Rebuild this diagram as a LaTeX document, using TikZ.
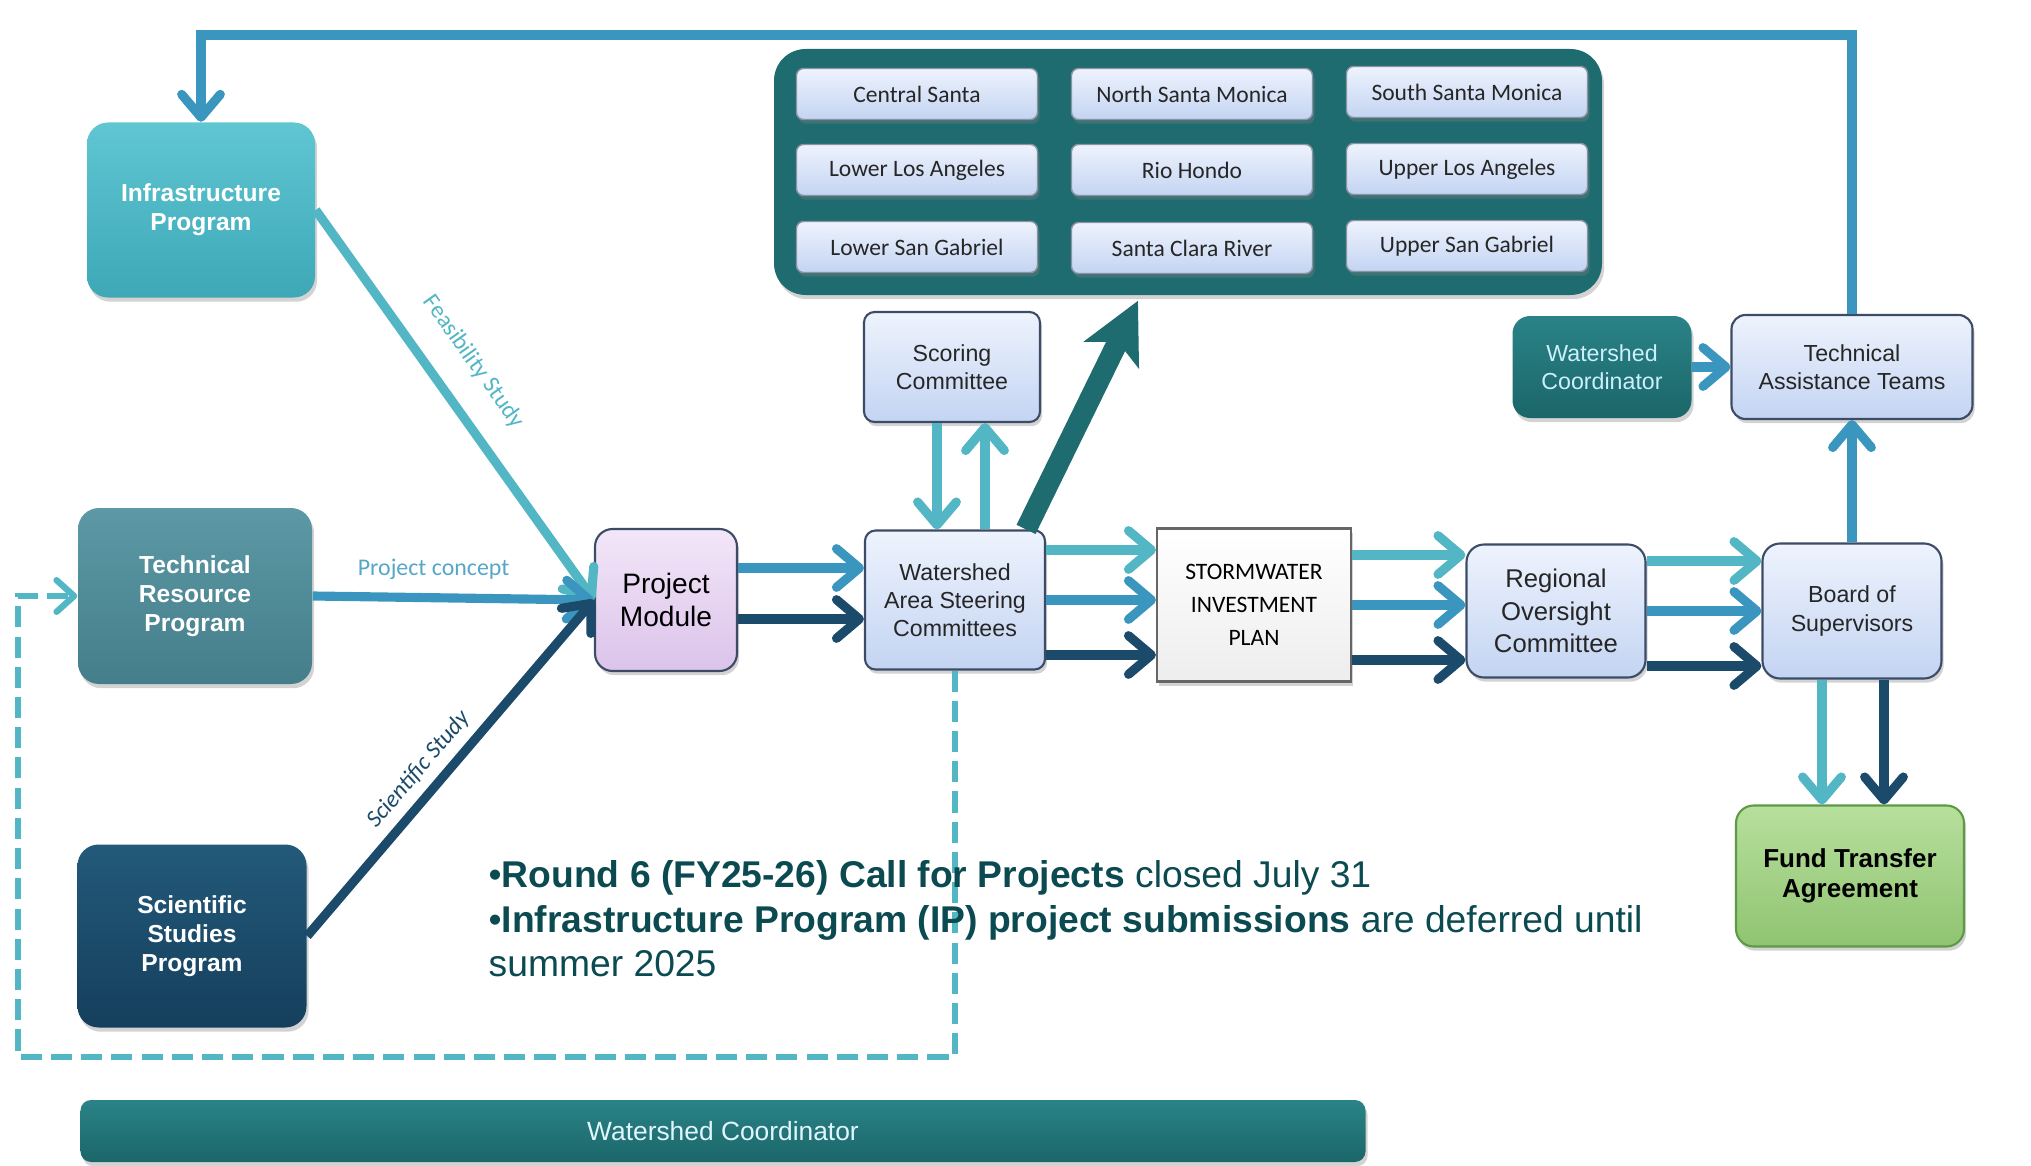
\documentclass[tikz,border=0pt]{standalone}
\usepackage{fontspec}
\setmainfont{Liberation Sans}
\newfontfamily\calib{Carlito}
\usetikzlibrary{arrows.meta, positioning, shadows}
\definecolor{lteal}{HTML}{52B6C4}
\definecolor{mblue}{HTML}{3A96BE}
\definecolor{navy}{HTML}{1B4A6B}
\definecolor{dteal}{HTML}{1F6C70}
\definecolor{txtteal}{HTML}{0B4A50}
\definecolor{boxline}{HTML}{3C4B66}
\definecolor{lbtop}{HTML}{EEF3FD}
\definecolor{lbbot}{HTML}{C3D4F2}
\definecolor{infratop}{HTML}{5FC6D2}
\definecolor{infrabot}{HTML}{3EA8B7}
\definecolor{trtop}{HTML}{5C98A5}
\definecolor{trbot}{HTML}{457E8B}
\definecolor{sstop}{HTML}{235979}
\definecolor{ssbot}{HTML}{153F5D}
\definecolor{wctop}{HTML}{2A8387}
\definecolor{wcbot}{HTML}{1B6669}
\definecolor{pmtop}{HTML}{F3E6F8}
\definecolor{pmbot}{HTML}{DBC3EA}
\definecolor{ftatop}{HTML}{B7DF9D}
\definecolor{ftabot}{HTML}{90C471}
\definecolor{ftaline}{HTML}{5E9A45}

\begin{document}
\begin{tikzpicture}[every node/.style={font=\fontsize{6.6}{8}\selectfont}]
  \tikzset{
    basebox/.style={rectangle, rounded corners=3pt, align=center, inner sep=0pt,
      drop shadow={opacity=0.35, shadow xshift=0.6pt, shadow yshift=-1.2pt}},
    progbox/.style={basebox, rounded corners=6pt, text=white,
      font=\bfseries\fontsize{7}{8.2}\selectfont},
    lightbox/.style={basebox, draw=boxline, line width=0.6pt,
      top color=lbtop, bottom color=lbbot, text=black!85},
    regionbox/.style={basebox, rounded corners=2pt, draw=boxline!60, line width=0.4pt,
      top color=lbtop, bottom color=lbbot, minimum width=2.41cm, minimum height=0.51cm,
      font=\calib\fontsize{6.7}{8}\selectfont, text=black!85},
    flowarrow/.style={line width=2.6pt, -{Straight Barb[round, length=6.5pt, width=11pt]}},
    edgelabel/.style={font=\calib\fontsize{6.8}{8}\selectfont, inner sep=1pt}
  }
  \useasboundingbox (0,0) rectangle (20.31,11.65);

  % programs on the left
  \node[progbox, top color=infratop, bottom color=infrabot, minimum width=2.28cm,
        minimum height=1.75cm] (infra) at (2.01, 9.55) {Infrastructure\\Program};
  \node[progbox, top color=trtop, bottom color=trbot, minimum width=2.34cm,
        minimum height=1.76cm] (techres) at (1.95, 5.69) {Technical\\Resource\\Program};
  \node[progbox, top color=sstop, bottom color=ssbot, minimum width=2.29cm,
        minimum height=1.83cm] (scistud) at (1.92, 2.29) {Scientific\\Studies\\Program};

  % main flow
  \node[basebox, rounded corners=5pt, draw=boxline, line width=0.6pt, top color=pmtop,
        bottom color=pmbot, minimum width=1.42cm, minimum height=1.42cm,
        font=\fontsize{8}{9.6}\selectfont] (pm) at (6.66, 5.65) {Project\\Module};
  \node[lightbox, minimum width=1.80cm, minimum height=1.39cm] (wasc) at (9.55, 5.65)
        {Watershed\\Area Steering\\Committees};
  \node[lightbox, minimum width=1.76cm, minimum height=1.10cm] (scoring) at (9.52, 7.98)
        {Scoring\\Committee};
  \node[basebox, rounded corners=0pt, draw=black!60, line width=0.6pt, top color=white,
        bottom color=black!7, minimum width=1.94cm, minimum height=1.53cm,
        font=\calib\fontsize{6.7}{9.3}\selectfont] (sip) at (12.54, 5.60)
        {STORMWATER\\INVESTMENT\\PLAN};
  \node[lightbox, rounded corners=5pt, minimum width=1.79cm, minimum height=1.33cm,
        font=\fontsize{7.3}{9.2}\selectfont] (roc) at (15.56, 5.54)
        {Regional\\Oversight\\Committee};
  \node[lightbox, rounded corners=5pt, minimum width=1.79cm, minimum height=1.35cm]
        (bos) at (18.52, 5.54) {Board of\\Supervisors};
  \node[basebox, rounded corners=5pt, draw=ftaline, line width=0.6pt, top color=ftatop,
        bottom color=ftabot, minimum width=2.28cm, minimum height=1.41cm,
        font=\bfseries\fontsize{7.4}{8.6}\selectfont] (fta) at (18.50, 2.89)
        {Fund Transfer\\Agreement};
  \node[basebox, rounded corners=5pt, top color=wctop, bottom color=wcbot,
        minimum width=1.79cm, minimum height=1.02cm, text=cyan!20!white]
        (wcsmall) at (16.02, 7.98) {Watershed\\Coordinator};
  \node[lightbox, rounded corners=4pt, minimum width=2.41cm, minimum height=1.04cm]
        (tat) at (18.52, 7.98) {Technical\\Assistance Teams};

  % watershed areas
  \node[basebox, rounded corners=9pt, fill=dteal, minimum width=8.28cm,
        minimum height=2.46cm] (container) at (11.88, 9.93) {};
  \node[regionbox] (cs)  at (9.17, 10.71) {Central Santa};
  \node[regionbox] (nsm) at (11.92, 10.71) {North Santa Monica};
  \node[regionbox] (ssm) at (14.67, 10.73) {South Santa Monica};
  \node[regionbox] (lla) at (9.17, 9.95) {Lower Los Angeles};
  \node[regionbox] (rh)  at (11.92, 9.95) {Rio Hondo};
  \node[regionbox] (ula) at (14.67, 9.96) {Upper Los Angeles};
  \node[regionbox] (lsg) at (9.17, 9.18) {Lower San Gabriel};
  \node[regionbox] (scr) at (11.92, 9.17) {Santa Clara River};
  \node[regionbox] (usg) at (14.67, 9.19) {Upper San Gabriel};

  \node[basebox, rounded corners=3pt, top color=wctop, bottom color=wcbot,
        minimum width=12.85cm, minimum height=0.62cm, text=cyan!12!white,
        font=\fontsize{7.5}{9}\selectfont] (wcbar) at (7.23, 0.34) {Watershed Coordinator};

  % dashed feedback loop
  \coordinate (loop) at (0.18, 1.08);
  \draw[lteal, line width=1.8pt, dash pattern=on 6pt off 2.6pt,
        -{Straight Barb[round, length=5pt, width=9pt]}] (wasc.south) |- (loop) |- (techres.west);

  % inputs to the project module
  \draw[flowarrow, lteal] (infra.east) -- node[edgelabel, pos=0.45, sloped, above=0.22cm,
        text=lteal] {Feasibility Study} (pm.west);
  \draw[flowarrow, mblue] (techres.east) -- node[edgelabel, pos=0.43, above=0.1cm,
        text=mblue!85!white] {Project concept} (pm.west);
  \draw[flowarrow, navy] (scistud.east) -- node[edgelabel, pos=0.45, sloped, above=0.05cm,
        text=navy, font=\calib\itshape\fontsize{6.8}{8}\selectfont] {Scientific Study} (pm.west);

  \draw[flowarrow, mblue] ([yshift=0.32cm]pm.east) -- ([yshift=0.32cm]pm.east -| wasc.west);
  \draw[flowarrow, navy] ([yshift=-0.19cm]pm.east) -- ([yshift=-0.19cm]pm.east -| wasc.west);
  \draw[flowarrow, lteal] ([xshift=-0.15cm]scoring.south) -- ([xshift=-0.15cm]scoring.south |- wasc.north);
  \draw[flowarrow, lteal] ([xshift=0.3cm]wasc.north) -- ([xshift=0.3cm]wasc.north |- scoring.south);
  \draw[dteal, line width=6pt, -{Stealth[length=17pt, width=17pt, inset=4pt]}]
        ([xshift=-0.2cm]wasc.north east) -- ([xshift=-0.5cm, yshift=-0.05cm]container.south);

  \foreach \a/\b in {wasc/sip, sip/roc, roc/bos}
    \foreach \dy/\c in {0.5/lteal, 0/mblue, -0.55/navy}
      \draw[flowarrow, \c] ([yshift=\dy cm]\a.east) -- ([yshift=\dy cm]\a.east -| \b.west);

  \draw[flowarrow, mblue] (bos.north) -- (tat.south);
  \draw[flowarrow, lteal] ([xshift=-0.3cm]bos.south) -- ([xshift=-0.3cm]bos.south |- fta.north);
  \draw[flowarrow, navy] ([xshift=0.32cm]bos.south) -- ([xshift=0.32cm]bos.south |- fta.north);
  \draw[flowarrow, mblue] (wcsmall.east) -- (tat.west);

  % back to the infrastructure program
  \coordinate (topline) at (0, 11.30);
  \draw[flowarrow, mblue] (tat.north) |- (infra.north |- topline) -- (infra.north);

  % notes
  \node[anchor=north west, inner sep=0pt, align=left, text=txtteal,
        font=\fontsize{10.6}{12.7}\selectfont] (notes) at (4.88, 3.05)
        {\textbullet\textbf{Round 6 (FY25-26) Call for Projects} closed July 31\\
         \textbullet\textbf{Infrastructure Program (IP) project submissions} are deferred until\\
         summer 2025};
\end{tikzpicture}
\end{document}
